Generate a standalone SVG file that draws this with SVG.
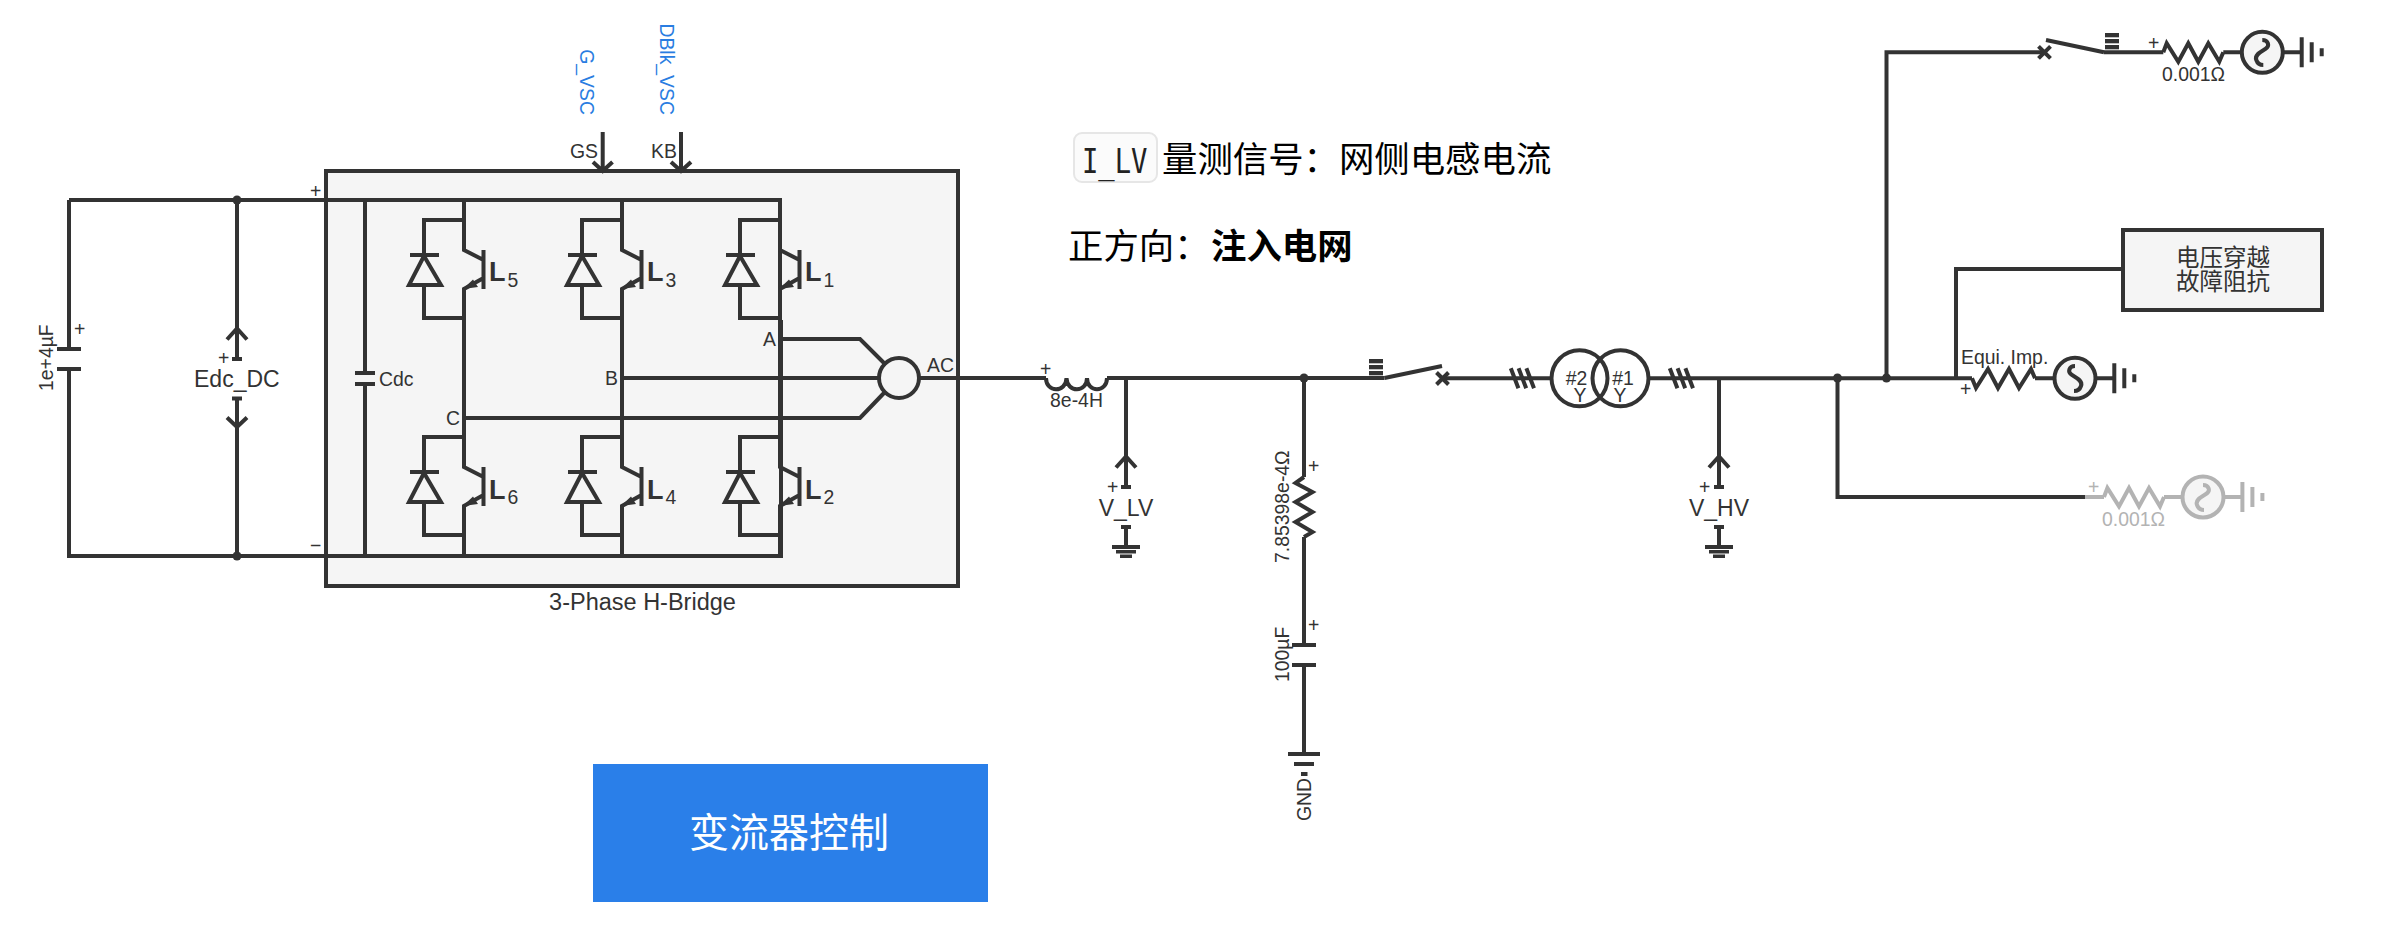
<svg xmlns="http://www.w3.org/2000/svg" xmlns:xlink="http://www.w3.org/1999/xlink" width="2400" height="945" viewBox="0 0 2400 945">
<style>
.ink{fill:none;stroke:#333;stroke-width:4}
.grey{fill:none;stroke:#b3b3b3;stroke-width:4}
.s{fill:#f5f5f5}
.f{fill:#333;stroke:none}
.fg{fill:#b3b3b3;stroke:none}
.t{font-family:"Liberation Sans",Arial,sans-serif;font-size:19.4px;fill:#333;stroke:none}
.b{font-size:23px}
.m{font-size:23.500px}
.blue{fill:#2a7de1}
.gt{fill:#b3b3b3}
.cjk{font-family:"Noto Sans CJK SC","Liberation Sans",sans-serif;fill:#000;stroke:none}
.mono{font-family:"DejaVu Sans Mono","Liberation Mono",monospace;font-size:34px;fill:#222;stroke:none}
.mid{text-anchor:middle}
.end{text-anchor:end}
.l{font-family:"Liberation Sans",Arial,sans-serif;font-weight:bold;font-size:27px;fill:#333;stroke:none}
</style>
<defs>
<g id="igbt">
<path d="M0,0V30L19.5,40M19.5,30V69M19.5,58L0,69V117M0,0H-40V35M-40,65V98H0"/>
<path d="M-54,35H-25M-40,36L-55,65H-23L-40,36Z"/>
<path class="f" d="M-1,69L9,59.5L14,67Z"/>
</g>
<g id="vm">
<path d="M0,0V-30M-10,-19.5L0,-30.500L10,-19.500M-5,0H5" />
</g>
<g id="gnd3">
<path d="M0,0V19.500"/>
<rect class="f" x="-5" y="-2" width="10" height="4"/>
<rect class="f" x="-14" y="18" width="28" height="4"/>
<rect class="f" x="-10" y="23" width="20" height="3.500"/>
<rect class="f" x="-6" y="27.500" width="12" height="3.500"/>
</g>
<g id="gbar">
<path d="M0,-15V15M10,-10V10M20,-4V4"/>
</g>
<path id="res" d="M0,0L3.400,-9L15,9.400L25,-9L35,9.400L45,-9L56,9.400L60,0"/>
<path id="wave" d="M0,-11C6,-11 8,-5 3,-2C-2,1 -8,4 -6,9C-5,12 -2,14 1,14"/>
<path id="cross" d="M-6,-6L6,6M6,-6L-6,6"/>
<path id="ticks" d="M-4.200,-10L3.400,10M3.600,-10L11.200,10M11.400,-10L19,10"/>
<g id="bars">
<rect x="0" y="-19" width="14" height="4.300"/>
<rect x="0" y="-13" width="14" height="4.300"/>
<rect x="0" y="-7" width="14" height="4.300"/>
</g>
</defs>
<rect width="2400" height="945" fill="#fff"/>

<g id="h-bridge-box">
<rect class="ink s" x="326" y="171" width="632" height="415"/>
<text class="t m mid" x="642.500" y="610">3-Phase H-Bridge</text>
</g>

<g id="connectors" class="ink">
<path d="M69,200H780V339"/>
<path d="M69,200V349M69,369V556H781V320"/>
<path d="M237,200V329M237,427V556"/>
<path d="M365,200V373M365,384V556"/>
<path d="M464,200V220M622,200V220M464,337V437M622,337V437M780,339V437M464,537V556M622,537V556M780,537V556"/>
<path d="M780,339H860L884,363M622,378H879M464,418H860L884,393"/>
<path d="M919,378H1046M1107,378H1384.500"/>
<path d="M1126,378V457M1304,378V477M1304,537V645M1304,665V754"/>
<path d="M1442,378.300H1551M1648,378.300H1972"/>
<path d="M1719,378V457"/>
<path d="M1837.500,378V497H2085"/>
<path d="M1886.500,378V52.300H2044"/>
<path d="M1956,378V269H2123"/>
<path d="M2104,52.300H2163.300M2223.300,52.300H2242M2283,52.300H2301.700"/>
<path d="M2035,378.300H2054M2096,378.300H2114"/>
<circle class="f" cx="237" cy="200" r="4.500"/>
<circle class="f" cx="237" cy="556" r="4.500"/>
<circle class="f" cx="1304" cy="378" r="4.500"/>
<circle class="f" cx="1837.500" cy="378" r="4.500"/>
<circle class="f" cx="1886.500" cy="378" r="4.500"/>
</g>

<g id="signal-gs" class="ink">
<path d="M602.700,132V171M593,162L602.700,171L612.500,162"/>
<text class="t" x="570" y="158">GS</text>
<text class="t blue end" transform="translate(580,115) rotate(90)">G_VSC</text>
</g>
<g id="signal-kb" class="ink">
<path d="M681,132V171M671,162L681,171L691,162"/>
<text class="t" x="651" y="158">KB</text>
<text class="t blue end" transform="translate(660,115) rotate(90)">DBlk_VSC</text>
</g>
<text class="t" x="310" y="198">+</text>
<text class="t" x="310" y="552">−</text>

<g id="dc-cap" class="ink">
<path d="M57,349H81M57,369H81"/>
<text class="t" x="74" y="336">+</text>
<text class="t" transform="translate(53,391) rotate(-90)">1e+4µF</text>
</g>
<g id="edc" class="ink">
<use xlink:href="#vm" href="#vm" x="237" y="359"/>
<path d="M232,398.500H242M237,398.500V427M227,417.500L237,427L247,417.500"/>
<text class="t" x="218" y="365">+</text>
<text class="t b" x="194" y="387">Edc_DC</text>
</g>
<g id="cdc" class="ink">
<path d="M355,373H375M355,384H375"/>
<text class="t" x="379" y="386">Cdc</text>
</g>

<g id="igbt5" class="ink"><use xlink:href="#igbt" href="#igbt" x="464" y="220"/><text class="l" x="489" y="281">L</text><text class="t" x="507.500" y="287">5</text></g>
<g id="igbt3" class="ink"><use xlink:href="#igbt" href="#igbt" x="622" y="220"/><text class="l" x="647" y="281">L</text><text class="t" x="665.500" y="287">3</text></g>
<g id="igbt1" class="ink"><use xlink:href="#igbt" href="#igbt" x="780" y="220"/><text class="l" x="805" y="281">L</text><text class="t" x="823.500" y="287">1</text></g>
<g id="igbt6" class="ink"><use xlink:href="#igbt" href="#igbt" x="464" y="437"/><text class="l" x="489" y="499">L</text><text class="t" x="507.500" y="504">6</text></g>
<g id="igbt4" class="ink"><use xlink:href="#igbt" href="#igbt" x="622" y="437"/><text class="l" x="647" y="499">L</text><text class="t" x="665.500" y="504">4</text></g>
<g id="igbt2" class="ink"><use xlink:href="#igbt" href="#igbt" x="780" y="437"/><text class="l" x="805" y="499">L</text><text class="t" x="823.500" y="504">2</text></g>

<g id="phase-labels">
<text class="t" x="763" y="346">A</text>
<text class="t" x="605" y="385">B</text>
<text class="t" x="446" y="425">C</text>
<text class="t" x="927" y="372">AC</text>
</g>
<g id="ac-join" class="ink"><circle class="s" cx="899" cy="378" r="20"/></g>

<g id="inductor" class="ink">
<path d="M1046,378C1046,393 1066,393 1066.500,378C1067,393 1087,393 1087,378C1087,393 1107,393 1107,378"/>
<text class="t" x="1040" y="376">+</text>
<text class="t mid" x="1076.500" y="407">8e-4H</text>
</g>
<g id="v-lv" class="ink">
<use xlink:href="#vm" href="#vm" x="1126" y="487"/>
<use xlink:href="#gnd3" href="#gnd3" x="1126" y="527"/>
<text class="t" x="1107" y="494">+</text>
<text class="t b mid" x="1126" y="516">V_LV</text>
</g>
<g id="filter-r" class="ink">
<path d="M1304,477L1295.500,483L1312.500,492L1295.500,502L1312.500,512L1295.500,522L1312.500,532L1304,537"/>
<text class="t" x="1308" y="473">+</text>
<text class="t" transform="translate(1289,563) rotate(-90)">7.85398e-4Ω</text>
</g>
<g id="filter-c" class="ink">
<path d="M1292,645H1316M1292,665H1316"/>
<text class="t" x="1308" y="632">+</text>
<text class="t" transform="translate(1289,682) rotate(-90)">100µF</text>
</g>
<g id="gnd-node">
<rect class="f" x="1288" y="752" width="32" height="4"/>
<rect class="f" x="1294" y="762" width="20" height="4"/>
<rect class="f" x="1301" y="772" width="6.500" height="4"/>
<text class="t" transform="translate(1311,821) rotate(-90)">GND</text>
</g>
<g id="breaker-lv" class="ink">
<path d="M1384.500,378L1442,366"/>
<use class="f" xlink:href="#bars" href="#bars" x="1369" y="378"/>
<use xlink:href="#cross" href="#cross" x="1442.500" y="378.500"/>
</g>
<g id="transformer" class="ink">
<use xlink:href="#ticks" href="#ticks" x="1515" y="378.300"/>
<use xlink:href="#ticks" href="#ticks" x="1674" y="378.300"/>
<circle cx="1579.500" cy="378.300" r="28"/>
<circle cx="1620.500" cy="378.300" r="28"/>
<text class="t mid" x="1576.500" y="385">#2</text>
<text class="t mid" x="1580" y="402">Y</text>
<text class="t mid" x="1623" y="385">#1</text>
<text class="t mid" x="1620" y="402">Y</text>
</g>
<g id="v-hv" class="ink">
<use xlink:href="#vm" href="#vm" x="1719" y="487"/>
<use xlink:href="#gnd3" href="#gnd3" x="1719" y="527"/>
<text class="t" x="1699" y="494">+</text>
<text class="t b mid" x="1719" y="516">V_HV</text>
</g>
<g id="breaker-top" class="ink">
<path d="M2104,52.300L2046,40"/>
<use class="f" xlink:href="#bars" href="#bars" x="2105" y="52"/>
<use xlink:href="#cross" href="#cross" x="2044.500" y="52.300"/>
</g>
<g id="source-top" class="ink">
<use xlink:href="#res" href="#res" x="2163.300" y="52.300"/>
<text class="t" x="2148" y="50">+</text>
<text class="t mid" x="2193.500" y="81">0.001Ω</text>
<circle class="s" cx="2262.300" cy="52.300" r="20.500"/>
<use xlink:href="#wave" href="#wave" x="2262.300" y="51"/>
<use xlink:href="#gbar" href="#gbar" x="2301.700" y="52.300"/>
</g>
<g id="fault-impedance">
<rect class="ink s" x="2123" y="230" width="199" height="80"/>
<text class="cjk mid" x="2223" y="266" font-size="23.500" style="fill:#333">电压穿越</text>
<text class="cjk mid" x="2223" y="290" font-size="23.500" style="fill:#333">故障阻抗</text>
</g>
<g id="source-main" class="ink">
<path d="M1972,378.300L1976,388L1988,369L1998,388L2009,369L2019,388L2031,369L2035,378.300"/>
<text class="t" x="1960" y="396">+</text>
<text class="t" x="1961" y="364">Equi. Imp.</text>
<circle class="s" cx="2075" cy="378.300" r="20.500"/>
<g transform="translate(2075,377)"><use xlink:href="#wave" href="#wave" transform="scale(-1,1)"/></g>
<use xlink:href="#gbar" href="#gbar" x="2114.300" y="378.300"/>
</g>
<g id="source-grey" class="grey">
<path d="M2085,497H2104M2164,497H2183M2224,497H2242"/>
<use xlink:href="#res" href="#res" x="2104" y="497"/>
<text class="t gt" x="2088" y="494">+</text>
<text class="t gt mid" x="2133.500" y="526">0.001Ω</text>
<circle class="s" cx="2203" cy="497" r="20.500"/>
<use xlink:href="#wave" href="#wave" x="2203" y="496"/>
<use xlink:href="#gbar" href="#gbar" x="2242.400" y="497"/>
</g>
<g id="control">
<rect x="593" y="764" width="395" height="138" fill="#2a7fe9"/>
<text class="cjk mid" x="789" y="847" font-size="40" style="fill:#fff">变流器控制</text>
</g>
<g id="annotation">
<rect x="1074" y="133" width="83" height="49" rx="8" fill="#fbfbfb" stroke="#e6e6e6" stroke-width="2"/>
<text class="mono" transform="translate(1082,173) scale(.8,1)">I_LV</text>
<text class="cjk" x="1162" y="172" font-size="35.400">量测信号：网侧电感电流</text>
<text class="cjk" x="1068" y="258.500" font-size="35.400">正方向：</text>
<text class="cjk" x="1211" y="258.500" font-size="35.400" font-weight="700">注入电网</text>
</g>
</svg>
